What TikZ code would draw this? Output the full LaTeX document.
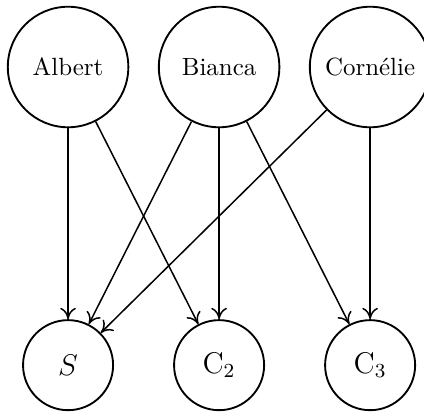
\documentclass[tikz,border=0pt]{standalone}
\usepackage{tikz}
\usetikzlibrary{arrows.meta,positioning}

\begin{document}
\begin{tikzpicture}[
  big/.style={draw, circle, line width=0.75pt, minimum size=1.7cm, inner sep=0pt},
  small/.style={draw, circle, line width=0.75pt, minimum size=1.27cm, inner sep=0pt, font=\large},
  arr/.style={-{To[length=1.6mm,width=2.2mm]}, line width=0.6pt}
]
\useasboundingbox (0,0) rectangle (5.98,-5.83);
% parents on top
\node[big] (al) at (0.96,-0.945) {Albert};
\node[big] (bi) at (3.09,-0.945) {Bianca};
\node[big] (co) at (5.22,-0.945) {Cornélie};
% children below
\node[small] (s)  at (0.96,-5.15) {$S$};
\node[small] (c2) at (3.09,-5.15) {C$_2$};
\node[small] (c3) at (5.22,-5.15) {C$_3$};
\draw[arr] (al) -- (s);
\draw[arr] (al) -- (c2);
\draw[arr] (bi) -- (s);
\draw[arr] (bi) -- (c2);
\draw[arr] (bi) -- (c3);
\draw[arr] (co) -- (s);
\draw[arr] (co) -- (c3);
\end{tikzpicture}
\end{document}
